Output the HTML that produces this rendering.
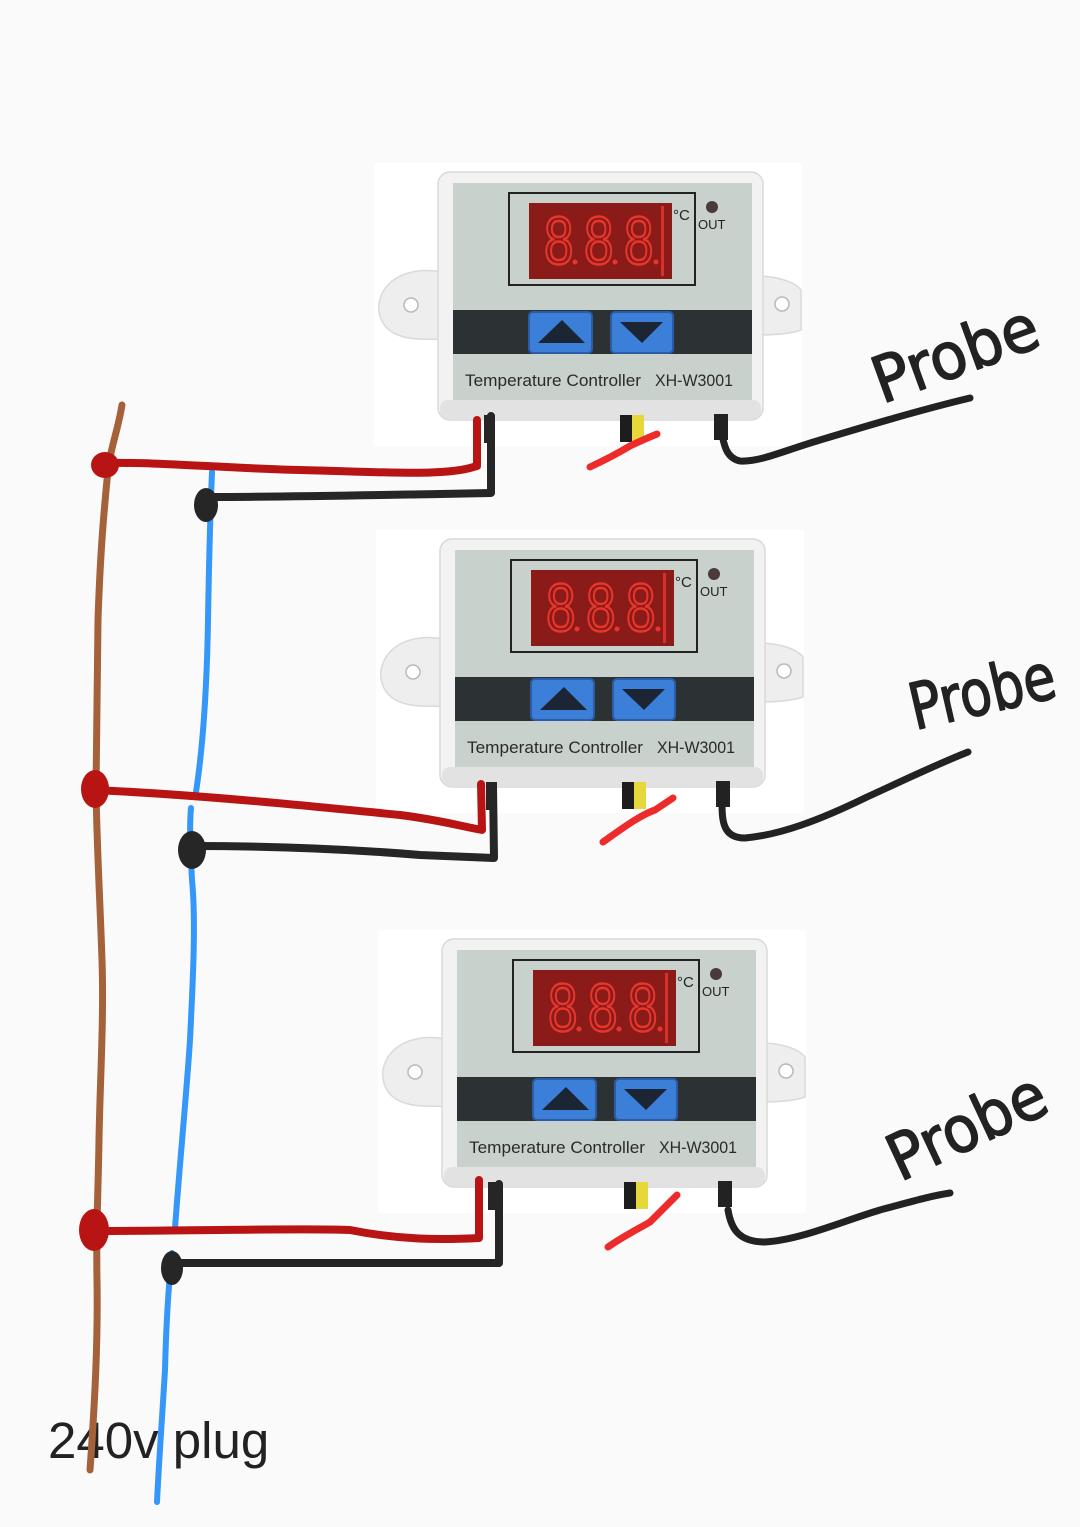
<!DOCTYPE html>
<html><head><meta charset="utf-8"><style>
html,body{margin:0;padding:0;background:#fafafa;}
svg{display:block;}
</style></head><body>
<svg width="1080" height="1527" viewBox="0 0 1080 1527" xmlns="http://www.w3.org/2000/svg">
<rect width="1080" height="1527" fill="#fafafa"/>

<!-- Controller 1 -->
<g>
<rect x="374" y="163" width="428" height="283" fill="#ffffff"/>
<path d="M442,272 C420,268 396,272 384,290 C373,308 380,328 398,335 C413,341 428,338 442,340 Z" fill="#eeeeee" stroke="#dadada" stroke-width="1.5"/>
<circle cx="411" cy="305" r="7" fill="#fff" stroke="#b9b9b9" stroke-width="1.5"/>
<path d="M756,276 C775,276 794,281 801,290 L801,330 C790,334 775,335 756,335 Z" fill="#eeeeee" stroke="#dadada" stroke-width="1.5"/>
<circle cx="782" cy="304" r="7" fill="#fff" stroke="#b9b9b9" stroke-width="1.5"/>
<rect x="438" y="172" width="325" height="248" rx="12" fill="#f2f2f2" stroke="#d9d9d9" stroke-width="1.5"/>
<rect x="440" y="400" width="321" height="19" rx="8" fill="#e2e2e2"/>
<rect x="453" y="183" width="299" height="217" fill="#c9d1cd"/>
<rect x="509" y="193" width="186" height="92" fill="none" stroke="#222" stroke-width="2"/>
<rect x="529" y="203" width="143" height="76" fill="#8a1b19"/>
<rect x="661" y="206" width="3" height="70" fill="#d8302a"/>
<g font-family="Liberation Sans, sans-serif" font-size="68" fill="none" stroke="#e8362c" stroke-width="2.5">
<text transform="translate(544,264) scale(0.78,1)">8</text>
<text transform="translate(584,264) scale(0.78,1)">8</text>
<text transform="translate(624,264) scale(0.78,1)">8</text>
</g>
<circle cx="575" cy="262" r="2.5" fill="#e8362c"/>
<circle cx="615" cy="262" r="2.5" fill="#e8362c"/>
<circle cx="656" cy="262" r="2.5" fill="#e8362c"/>
<text x="673" y="220" font-family="Liberation Sans, sans-serif" font-size="15" fill="#222">°C</text>
<circle cx="712" cy="207" r="6" fill="#4b3a3a"/>
<text x="698" y="229" font-family="Liberation Sans, sans-serif" font-size="13" fill="#222">OUT</text>
<rect x="453" y="310" width="299" height="44" fill="#2c3234"/>
<rect x="529" y="312" width="63" height="41" rx="4" fill="#3b7fd8" stroke="#2a5ca8" stroke-width="2"/>
<polygon points="538,343 585,343 562,320" fill="#1c2533"/>
<rect x="611" y="312" width="62" height="41" rx="4" fill="#3b7fd8" stroke="#2a5ca8" stroke-width="2"/>
<polygon points="620,322 663,322 642,343" fill="#1c2533"/>
<text x="465" y="386" font-family="Liberation Sans, sans-serif" font-size="17" fill="#2a2a2a" textLength="176" lengthAdjust="spacingAndGlyphs">Temperature Controller</text>
<text x="655" y="386" font-family="Liberation Sans, sans-serif" font-size="17" fill="#2a2a2a" textLength="78" lengthAdjust="spacingAndGlyphs">XH-W3001</text>
<rect x="484" y="415" width="11" height="28" fill="#262626"/>
<rect x="620" y="415" width="12" height="27" fill="#1d1d1d"/>
<rect x="632" y="415" width="12" height="27" fill="#e6d83a"/>
<rect x="714" y="414" width="14" height="26" fill="#222"/>
</g>

<!-- Controller 2 -->
<g transform="translate(2,367)">
<rect x="374" y="163" width="428" height="283" fill="#ffffff"/>
<path d="M442,272 C420,268 396,272 384,290 C373,308 380,328 398,335 C413,341 428,338 442,340 Z" fill="#eeeeee" stroke="#dadada" stroke-width="1.5"/>
<circle cx="411" cy="305" r="7" fill="#fff" stroke="#b9b9b9" stroke-width="1.5"/>
<path d="M756,276 C775,276 794,281 801,290 L801,330 C790,334 775,335 756,335 Z" fill="#eeeeee" stroke="#dadada" stroke-width="1.5"/>
<circle cx="782" cy="304" r="7" fill="#fff" stroke="#b9b9b9" stroke-width="1.5"/>
<rect x="438" y="172" width="325" height="248" rx="12" fill="#f2f2f2" stroke="#d9d9d9" stroke-width="1.5"/>
<rect x="440" y="400" width="321" height="19" rx="8" fill="#e2e2e2"/>
<rect x="453" y="183" width="299" height="217" fill="#c9d1cd"/>
<rect x="509" y="193" width="186" height="92" fill="none" stroke="#222" stroke-width="2"/>
<rect x="529" y="203" width="143" height="76" fill="#8a1b19"/>
<rect x="661" y="206" width="3" height="70" fill="#d8302a"/>
<g font-family="Liberation Sans, sans-serif" font-size="68" fill="none" stroke="#e8362c" stroke-width="2.5">
<text transform="translate(544,264) scale(0.78,1)">8</text>
<text transform="translate(584,264) scale(0.78,1)">8</text>
<text transform="translate(624,264) scale(0.78,1)">8</text>
</g>
<circle cx="575" cy="262" r="2.5" fill="#e8362c"/>
<circle cx="615" cy="262" r="2.5" fill="#e8362c"/>
<circle cx="656" cy="262" r="2.5" fill="#e8362c"/>
<text x="673" y="220" font-family="Liberation Sans, sans-serif" font-size="15" fill="#222">°C</text>
<circle cx="712" cy="207" r="6" fill="#4b3a3a"/>
<text x="698" y="229" font-family="Liberation Sans, sans-serif" font-size="13" fill="#222">OUT</text>
<rect x="453" y="310" width="299" height="44" fill="#2c3234"/>
<rect x="529" y="312" width="63" height="41" rx="4" fill="#3b7fd8" stroke="#2a5ca8" stroke-width="2"/>
<polygon points="538,343 585,343 562,320" fill="#1c2533"/>
<rect x="611" y="312" width="62" height="41" rx="4" fill="#3b7fd8" stroke="#2a5ca8" stroke-width="2"/>
<polygon points="620,322 663,322 642,343" fill="#1c2533"/>
<text x="465" y="386" font-family="Liberation Sans, sans-serif" font-size="17" fill="#2a2a2a" textLength="176" lengthAdjust="spacingAndGlyphs">Temperature Controller</text>
<text x="655" y="386" font-family="Liberation Sans, sans-serif" font-size="17" fill="#2a2a2a" textLength="78" lengthAdjust="spacingAndGlyphs">XH-W3001</text>
<rect x="484" y="415" width="11" height="28" fill="#262626"/>
<rect x="620" y="415" width="12" height="27" fill="#1d1d1d"/>
<rect x="632" y="415" width="12" height="27" fill="#e6d83a"/>
<rect x="714" y="414" width="14" height="26" fill="#222"/>
</g>

<!-- Controller 3 -->
<g transform="translate(4,767)">
<rect x="374" y="163" width="428" height="283" fill="#ffffff"/>
<path d="M442,272 C420,268 396,272 384,290 C373,308 380,328 398,335 C413,341 428,338 442,340 Z" fill="#eeeeee" stroke="#dadada" stroke-width="1.5"/>
<circle cx="411" cy="305" r="7" fill="#fff" stroke="#b9b9b9" stroke-width="1.5"/>
<path d="M756,276 C775,276 794,281 801,290 L801,330 C790,334 775,335 756,335 Z" fill="#eeeeee" stroke="#dadada" stroke-width="1.5"/>
<circle cx="782" cy="304" r="7" fill="#fff" stroke="#b9b9b9" stroke-width="1.5"/>
<rect x="438" y="172" width="325" height="248" rx="12" fill="#f2f2f2" stroke="#d9d9d9" stroke-width="1.5"/>
<rect x="440" y="400" width="321" height="19" rx="8" fill="#e2e2e2"/>
<rect x="453" y="183" width="299" height="217" fill="#c9d1cd"/>
<rect x="509" y="193" width="186" height="92" fill="none" stroke="#222" stroke-width="2"/>
<rect x="529" y="203" width="143" height="76" fill="#8a1b19"/>
<rect x="661" y="206" width="3" height="70" fill="#d8302a"/>
<g font-family="Liberation Sans, sans-serif" font-size="68" fill="none" stroke="#e8362c" stroke-width="2.5">
<text transform="translate(544,264) scale(0.78,1)">8</text>
<text transform="translate(584,264) scale(0.78,1)">8</text>
<text transform="translate(624,264) scale(0.78,1)">8</text>
</g>
<circle cx="575" cy="262" r="2.5" fill="#e8362c"/>
<circle cx="615" cy="262" r="2.5" fill="#e8362c"/>
<circle cx="656" cy="262" r="2.5" fill="#e8362c"/>
<text x="673" y="220" font-family="Liberation Sans, sans-serif" font-size="15" fill="#222">°C</text>
<circle cx="712" cy="207" r="6" fill="#4b3a3a"/>
<text x="698" y="229" font-family="Liberation Sans, sans-serif" font-size="13" fill="#222">OUT</text>
<rect x="453" y="310" width="299" height="44" fill="#2c3234"/>
<rect x="529" y="312" width="63" height="41" rx="4" fill="#3b7fd8" stroke="#2a5ca8" stroke-width="2"/>
<polygon points="538,343 585,343 562,320" fill="#1c2533"/>
<rect x="611" y="312" width="62" height="41" rx="4" fill="#3b7fd8" stroke="#2a5ca8" stroke-width="2"/>
<polygon points="620,322 663,322 642,343" fill="#1c2533"/>
<text x="465" y="386" font-family="Liberation Sans, sans-serif" font-size="17" fill="#2a2a2a" textLength="176" lengthAdjust="spacingAndGlyphs">Temperature Controller</text>
<text x="655" y="386" font-family="Liberation Sans, sans-serif" font-size="17" fill="#2a2a2a" textLength="78" lengthAdjust="spacingAndGlyphs">XH-W3001</text>
<rect x="484" y="415" width="11" height="28" fill="#262626"/>
<rect x="620" y="415" width="12" height="27" fill="#1d1d1d"/>
<rect x="632" y="415" width="12" height="27" fill="#e6d83a"/>
<rect x="714" y="414" width="14" height="26" fill="#222"/>
</g>

<!-- label -->
<text x="48" y="1458" font-family="Liberation Sans, sans-serif" font-size="51" fill="#222">240v plug</text>

<!-- Probe labels -->
<g font-family="DejaVu Sans, sans-serif" font-size="64" fill="#222" stroke="#222" stroke-width="1.5" stroke-linejoin="round">
<text transform="translate(882,404) rotate(-20)" textLength="172" lengthAdjust="spacingAndGlyphs">Probe</text>
<text transform="translate(915,730) rotate(-13)" textLength="148" lengthAdjust="spacingAndGlyphs">Probe</text>
<text transform="translate(900,1182) rotate(-25)" textLength="168" lengthAdjust="spacingAndGlyphs">Probe</text>
</g>

<!-- wires -->
<g fill="none" stroke-linecap="round" stroke-linejoin="round">
<path d="M122,405 C118,430 110,450 108,470 C103,520 100,560 98,620 C97,680 97,740 96,790 C97,850 100,900 102,960 C104,1020 100,1080 99,1140 C98,1200 96,1230 97,1280 C98,1340 95,1400 90,1470" stroke="#a5623a" stroke-width="7"/>
<path d="M212,472 C210,520 209,560 208,620 C207,680 204,740 196,792" stroke="#3597f7" stroke-width="6"/>
<path d="M191,808 C189,830 191,860 192,880 C196,920 193,980 190,1040 C186,1100 180,1160 175,1228" stroke="#3597f7" stroke-width="6"/>
<path d="M172,1253 C168,1290 166,1330 165,1370 C162,1420 159,1460 157,1502" stroke="#3597f7" stroke-width="6"/>

<path d="M107,463 C160,462 220,468 300,470 C380,472 440,476 470,468 L477,466 L477,420" stroke="#b81414" stroke-width="8"/>
<path d="M205,497 C280,497 380,495 440,494 L491,493 L491,416" stroke="#262626" stroke-width="8"/>
<path d="M95,790 C200,795 300,805 400,815 C440,820 460,826 482,830 L481,784" stroke="#b81414" stroke-width="8"/>
<path d="M192,846 C280,846 360,850 420,855 L494,858 L493,786" stroke="#262626" stroke-width="8"/>
<path d="M95,1231 C200,1231 300,1228 350,1230 C400,1240 440,1240 479,1238 L479,1180" stroke="#b81414" stroke-width="8"/>
<path d="M172,1263 L499,1263 L499,1184" stroke="#262626" stroke-width="8"/>

<path d="M590,467 C605,460 620,452 630,446 C640,441 650,437 657,434" stroke="#ee2b2b" stroke-width="7"/>
<path d="M603,842 C620,830 640,815 655,810 L673,798" stroke="#ee2b2b" stroke-width="7"/>
<path d="M608,1247 C625,1235 640,1228 650,1222 L677,1195" stroke="#ee2b2b" stroke-width="7"/>

<path d="M721,430 C724,445 726,458 740,461 C760,462 780,452 820,440 C870,425 920,410 970,398" stroke="#222" stroke-width="7"/>
<path d="M722,800 C722,820 722,838 745,838 C780,835 820,820 867,797 C900,782 935,765 968,752" stroke="#222" stroke-width="7"/>
<path d="M728,1210 C731,1228 738,1242 765,1242 C800,1240 840,1222 880,1210 C910,1202 930,1196 950,1193" stroke="#222" stroke-width="7"/>
</g>

<!-- junction dots -->
<ellipse cx="105" cy="465" rx="14" ry="13" fill="#b81414"/>
<ellipse cx="206" cy="505" rx="12" ry="17" fill="#262626"/>
<ellipse cx="95" cy="789" rx="14" ry="19" fill="#b81414"/>
<ellipse cx="192" cy="850" rx="14" ry="19" fill="#262626"/>
<ellipse cx="94" cy="1230" rx="15" ry="21" fill="#b81414"/>
<ellipse cx="172" cy="1268" rx="11" ry="17" fill="#262626"/>
</svg>
</body></html>
